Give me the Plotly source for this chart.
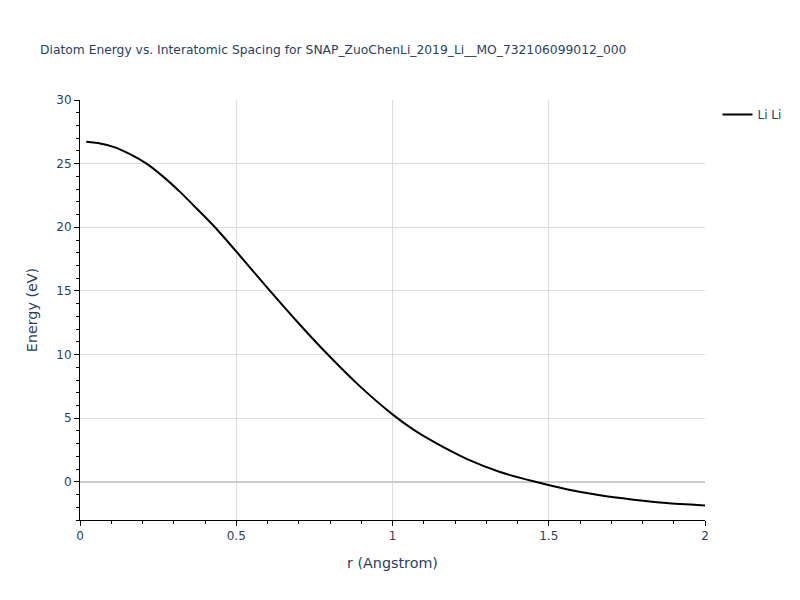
import plotly.graph_objects as go

r_vals = [0.02, 0.064, 0.107, 0.16, 0.213, 0.267, 0.32, 0.373, 0.432, 0.5,
          0.608, 0.698, 0.789, 0.896, 1.0, 1.067, 1.131, 1.237, 1.344, 1.451,
          1.557, 1.664, 1.771, 1.877, 2.0]
energy_vals = [26.72, 26.59, 26.32, 25.75, 25.0, 23.96, 22.78, 21.48, 20.0, 18.1,
               15.0, 12.5, 10.1, 7.5, 5.3, 4.1, 3.15, 1.80, 0.77, 0.04,
               -0.58, -1.06, -1.40, -1.67, -1.86]
series_name = "Li Li"
title_text = "Diatom Energy vs. Interatomic Spacing for SNAP_ZuoChenLi_2019_Li__MO_732106099012_000"

FONT = "DejaVu Sans"
TXT = "#2a3f5f"

fig = go.Figure()
fig.add_trace(go.Scatter(x=r_vals, y=energy_vals, mode="lines", name=series_name,
                         line=dict(color="black", width=2, shape="spline", smoothing=0.6)))

axis_common = dict(
    showline=True, linecolor="black", linewidth=1,
    ticks="outside", tickcolor="black", ticklen=5,
    showgrid=True, gridcolor="#dcdcdc", gridwidth=1,
    minor=dict(ticks="outside", ticklen=3, tickcolor="black", showgrid=False),
    tickfont=dict(family=FONT, size=12, color=TXT),
)

fig.update_layout(
    width=800, height=600,
    template="plotly_white",
    font=dict(family=FONT, color=TXT),
    title=dict(text=title_text, x=0.05, y=0.925, xanchor="left",
               font=dict(family=FONT, size=12.3, color=TXT)),
    margin=dict(l=80, r=95, t=100, b=80),
    plot_bgcolor="white", paper_bgcolor="white",
    showlegend=True,
    legend=dict(font=dict(family=FONT, size=12, color=TXT)),
)
fig.update_xaxes(range=[0, 2], dtick=0.5,
                 title=dict(text="r (Angstrom)", font=dict(family=FONT, size=14.3, color=TXT)),
                 zeroline=False, **axis_common)
fig.update_yaxes(range=[-3, 30], dtick=5,
                 title=dict(text="Energy (eV)", font=dict(family=FONT, size=14.3, color=TXT)),
                 zeroline=True, zerolinecolor="#cccccc", zerolinewidth=2, **axis_common)

fig.write_html("out.html", config={"displayModeBar": False},
               post_script="document.body.style.margin='0';")
